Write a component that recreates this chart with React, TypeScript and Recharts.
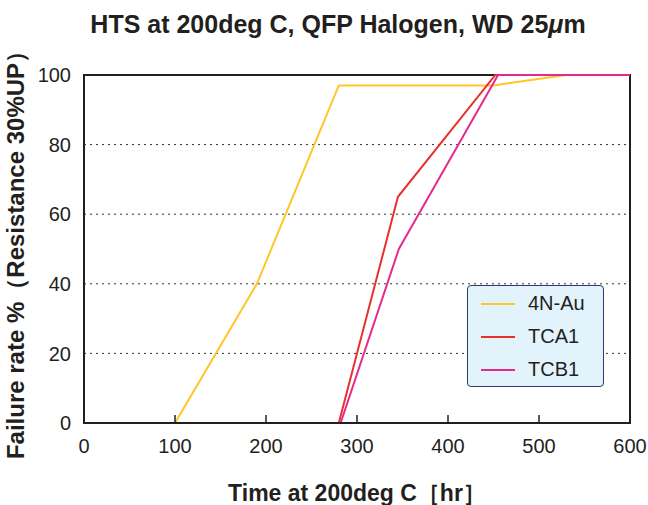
import React from "react";
import {
  LineChart,
  Line,
  XAxis,
  YAxis,
  CartesianGrid,
  ReferenceArea,
} from "recharts";

// hours on test
const auHours = [100, 190, 280, 450, 530, 600];
const auRate = [0, 40, 97, 97, 100, 100];
const tcaHours = [280, 345, 452, 600];
const tcaRate = [0, 65, 100, 100];
const tcbHours = [282, 346, 455, 600];
const tcbRate = [0, 50, 100, 100];

const xTicks = [0, 100, 200, 300, 400, 500, 600];
const yTicks = [0, 20, 40, 60, 80, 100];

const toPoints = (xs: number[], ys: number[]) =>
  xs.map((x, i) => ({ x, y: ys[i] }));

const series = [
  { name: "4N-Au", color: "#FFC629", data: toPoints(auHours, auRate) },
  { name: "TCA1", color: "#E8312F", data: toPoints(tcaHours, tcaRate) },
  { name: "TCB1", color: "#E62A8C", data: toPoints(tcbHours, tcbRate) },
];

const FONT = '"Liberation Sans", Arial, Helvetica, sans-serif';
const INK = "#231F20";

const LegendBox = () => (
  <div
    style={{
      position: "absolute",
      left: 467,
      top: 285,
      width: 137,
      height: 102,
      boxSizing: "border-box",
      background: "#E2F3FC",
      border: "1.5px solid #2B3A6B",
      borderRadius: 4,
      paddingTop: 1,
      fontFamily: FONT,
      fontSize: 20,
      color: INK,
    }}
  >
    {series.map((s) => (
      <div
        key={s.name}
        style={{ display: "flex", alignItems: "center", height: 33 }}
      >
        <span
          style={{
            display: "inline-block",
            width: 34,
            height: 2,
            background: s.color,
            marginLeft: 13,
            marginRight: 13,
          }}
        />
        {s.name}
      </div>
    ))}
  </div>
);

const App: React.FC = () => {
  return (
    <div
      style={{
        position: "absolute",
        left: 0,
        top: 0,
        width: 648,
        height: 505,
        background: "#fff",
        fontFamily: FONT,
      }}
    >
      <div
        style={{
          position: "absolute",
          left: 0,
          width: 676,
          top: 10,
          textAlign: "center",
          fontSize: 25,
          fontWeight: "bold",
          color: INK,
        }}
      >
        HTS at 200deg C, QFP Halogen, WD 25<i>μ</i>m
      </div>
      <LineChart
        width={648}
        height={505}
        margin={{ top: 75, right: 18, bottom: 0, left: 0 }}
      >
        <CartesianGrid
          vertical={false}
          stroke="#333"
          strokeDasharray="2 4"
        />
        <XAxis
          type="number"
          dataKey="x"
          domain={[0, 600]}
          ticks={xTicks}
          height={82}
          axisLine={{ stroke: INK, strokeWidth: 2 }}
          tickLine={{ stroke: INK, strokeWidth: 1.5 }}
          tickSize={-8}
          tickMargin={24}
          tick={{ fill: INK, fontSize: 20 }}
          label={{
            value: "Time at 200deg C［hr］",
            position: "insideBottom",
            offset: 4,
            fill: INK,
            fontSize: 23,
            fontWeight: "bold",
          }}
        />
        <YAxis
          type="number"
          dataKey="y"
          domain={[0, 100]}
          ticks={yTicks}
          width={84}
          axisLine={{ stroke: INK, strokeWidth: 2 }}
          tickLine={false}
          tickMargin={7}
          tick={{ fill: INK, fontSize: 20 }}
          label={{
            value: "Failure rate %（Resistance 30%UP）",
            angle: -90,
            position: "insideLeft",
            offset: 21,
            dx: -6,
            fill: INK,
            fontSize: 24,
            fontWeight: "bold",
            style: { textAnchor: "middle" },
          }}
        />
        <ReferenceArea
          x1={0}
          x2={600}
          y1={0}
          y2={100}
          fill="none"
          stroke={INK}
          strokeWidth={2}
        />
        {series.map((s) => (
          <Line
            key={s.name}
            data={s.data}
            dataKey="y"
            name={s.name}
            type="linear"
            stroke={s.color}
            strokeWidth={2}
            dot={false}
            isAnimationActive={false}
          />
        ))}
      </LineChart>
      <LegendBox />
    </div>
  );
};

export default App;
